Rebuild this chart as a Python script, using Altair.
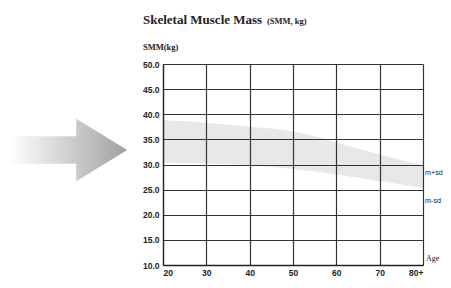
import altair as alt
import pandas as pd

ages = [20, 30, 40, 50, 60, 70, 80]
upper = [38.8, 38.3, 37.5, 36.6, 34.4, 32.0, 29.8]
lower = [30.4, 30.2, 29.8, 29.1, 28.0, 26.7, 25.3]
y_ticks = [10, 15, 20, 25, 30, 35, 40, 45, 50]
x_ticks = [20, 30, 40, 50, 60, 70, 80]

df = pd.DataFrame({"age": ages, "upper": upper, "lower": lower})

W, H = 260, 201

xs = alt.Scale(domain=[20, 80], nice=False)
ys = alt.Scale(domain=[10, 50], nice=False)

x_axis = alt.Axis(values=x_ticks, title=None, grid=True, gridColor="#333",
                  gridWidth=1.2, gridOpacity=1, ticks=False, domainColor="#222",
                  domainWidth=1.3, labelFont="Liberation Sans", labelFontWeight="bold",
                  labelFontSize=8.5, labelColor="#222", labelPadding=3,
                  labelExpr="datum.value == 80 ? '80+' : datum.label", zindex=1)
y_axis = alt.Axis(values=y_ticks, title=None, grid=True, gridColor="#333",
                  gridWidth=1.2, gridOpacity=1, ticks=False, domainColor="#222",
                  domainWidth=1.3, labelFont="Liberation Sans", labelFontWeight="bold",
                  labelFontSize=8.5, labelColor="#222", labelPadding=4,
                  format=".1f", zindex=1)

band = alt.Chart(df).mark_area(color="#e8e8e8", opacity=1, interpolate="monotone").encode(
    x=alt.X("age:Q", scale=xs, axis=x_axis),
    y=alt.Y("upper:Q", scale=ys, axis=y_axis),
    y2="lower:Q",
)

arrow_path = "M-1,-0.23 L0.12,-0.23 L0.12,-0.52 L0.97,0 L0.12,0.52 L0.12,0.23 L-1,0.23 Z"
arrow = alt.Chart(pd.DataFrame({"a": [0]})).mark_point(
    shape=arrow_path, size=14400, filled=True, opacity=1,
    fill=alt.LinearGradient(gradient="linear", x1=0, y1=0, x2=1, y2=0,
                            stops=[alt.GradientStop(color="#ffffff", offset=0),
                                   alt.GradientStop(color="#d0d0d0", offset=0.5),
                                   alt.GradientStop(color="#a0a0a0", offset=1)]),
    stroke=None,
).encode(x=alt.value(-94), y=alt.value(86))

def txt(text, x, y, size, font="Liberation Serif", weight="normal", align="left", color="#222"):
    return alt.Chart(pd.DataFrame({"t": [text]})).mark_text(
        font=font, fontSize=size, fontWeight=weight, align=align, baseline="middle", color=color
    ).encode(text="t:N", x=alt.value(x), y=alt.value(y))

title1 = txt("Skeletal Muscle Mass", -20, -44, 13, weight="bold")
title2 = txt("(SMM, kg)", 104, -43, 8.5, weight="bold")
ylab = txt("SMM(kg)", -20, -17, 8.5, weight="bold")
agelab = txt("Age", W + 3, H - 6, 8)
msd_p = txt("m+sd", W + 2, 109, 7.2, font="Liberation Sans")
msd_m = txt("m-sd", W + 2, 137, 7.2, font="Liberation Sans")

chart = alt.layer(arrow, band, title1, title2, ylab, agelab, msd_p, msd_m).properties(
    width=W, height=H,
    autosize=alt.AutoSizeParams(type="none"),
    padding={"left": 155, "top": 56, "right": 20, "bottom": 15},
).configure_view(stroke=None).configure(background="white")

chart.save("out.html", embed_options={"renderer": "svg", "actions": False})
